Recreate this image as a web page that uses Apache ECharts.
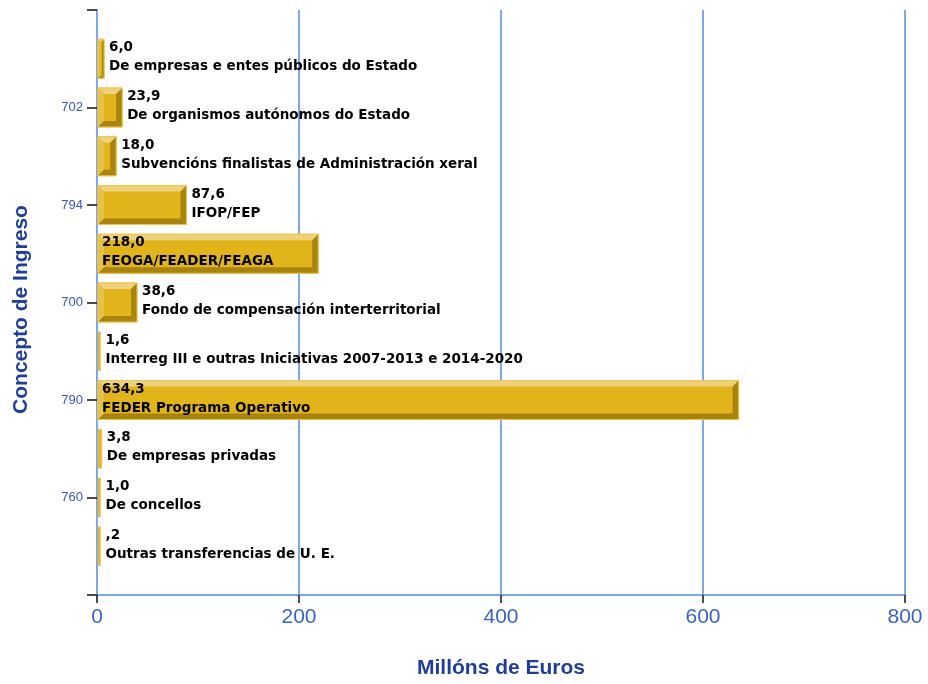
<!DOCTYPE html>
<html>
<head>
<meta charset="utf-8">
<script src="https://cdn.jsdelivr.net/npm/echarts@6/dist/echarts.min.js"></script>
<style>
html,body{margin:0;padding:0;background:#fff;}
#chart{width:928px;height:684px;}
</style>
</head>
<body>
<div id="chart"></div>
<script>
// Data (top to bottom)
const names = [
  'De empresas e entes públicos do Estado',
  'De organismos autónomos do Estado',
  'Subvencións finalistas de Administración xeral',
  'IFOP/FEP',
  'FEOGA/FEADER/FEAGA',
  'Fondo de compensación interterritorial',
  'Interreg III e outras Iniciativas 2007-2013 e 2014-2020',
  'FEDER Programa Operativo',
  'De empresas privadas',
  'De concellos',
  'Outras transferencias de U. E.'
];
const values = [6.0, 23.9, 18.0, 87.6, 218.0, 38.6, 1.6, 634.3, 3.8, 1.0, 0.2];
// y tick labels (category axis positions 0..12, padded slots at both ends)
const yTickLabels = ['', '', '702', '', '794', '', '700', '', '790', '', '760', '', ''];
const xTicks = [0, 200, 400, 600, 800];

const yCategories = [''].concat(names, ['']);

function fmt(v) {
  let s = v.toFixed(1).replace('.', ',');
  if (s.startsWith('0,')) s = s.slice(1);
  return s;
}

const chart = echarts.init(document.getElementById('chart'), null, {renderer: 'canvas'});
const data = values.map((v, i) => [v, i + 1, names[i]]);

const option = {
  animation: false,
  grid: {left: 97, right: 23, top: 10, bottom: 88, containLabel: false},
  xAxis: {
    type: 'value',
    min: xTicks[0], max: xTicks[xTicks.length - 1], interval: 200,
    name: 'Millóns de Euros',
    nameLocation: 'middle',
    nameGap: 63,
    nameTextStyle: {color: '#1f3e9c', fontSize: 21, fontWeight: 'bold', fontFamily: 'Liberation Sans, Arial, sans-serif'},
    axisLine: {show: true, lineStyle: {color: '#7ea7e3', width: 2}},
    axisTick: {show: true, length: 8, lineStyle: {color: '#111', width: 1.5}},
    axisLabel: {color: '#3c63c4', fontSize: 21, margin: 12, fontFamily: 'Liberation Sans, Arial, sans-serif'},
    splitLine: {show: true, lineStyle: {color: '#7ea7e3', width: 2}}
  },
  yAxis: {
    type: 'category',
    data: yCategories,
    inverse: true,
    boundaryGap: false,
    name: 'Concepto de Ingreso',
    nameLocation: 'middle',
    nameGap: 65,
    nameRotate: 90,
    nameTextStyle: {color: '#1f3e9c', fontSize: 21, fontWeight: 'bold', fontFamily: 'Liberation Sans, Arial, sans-serif', padding: [0, 14, 0, 0]},
    axisLine: {show: true, lineStyle: {color: '#7ea7e3', width: 2}},
    axisTick: {show: true, length: 10, interval: 1, lineStyle: {color: '#111', width: 1.5}},
    axisLabel: {
      interval: 1, color: '#3a55c0', fontSize: 13, margin: 14,
      fontFamily: 'Liberation Sans, Arial, sans-serif',
      formatter: (val, idx) => yTickLabels[idx]
    },
    splitLine: {show: false}
  },
  series: [{
    type: 'custom',
    coordinateSystem: 'cartesian2d',
    encode: {x: 0, y: 1},
    clip: false,
    data: data,
    renderItem: function (params, api) {
      const v = api.value(0);
      const ci = api.value(1);
      const start = api.coord([0, ci]);
      const end = api.coord([v, ci]);
      const h = api.size([0, 1])[1] * 0.8;
      const x0 = start[0] + 1;
      const y0 = start[1] - h / 2;
      let w = Math.max(end[0] - start[0], 2.5);
      const children = [];
      const light = '#edd17c', mid = '#e1b41b', dark = '#a8830f', rim = '#eec544';
      if (w > 6) {
        const b = Math.min(6, w / 3);
        const x1 = x0 + w, y1 = y0 + h;
        children.push({type: 'rect', shape: {x: x0, y: y0, width: w, height: h}, style: {fill: mid, stroke: rim, lineWidth: 1}});
        children.push({type: 'polygon', shape: {points: [[x0, y0], [x1, y0], [x1 - b, y0 + b], [x0 + b, y0 + b]]}, style: {fill: light}});
        children.push({type: 'polygon', shape: {points: [[x0, y0], [x0 + b, y0 + b], [x0 + b, y1 - b], [x0, y1]]}, style: {fill: '#e7c24a'}});
        children.push({type: 'polygon', shape: {points: [[x1, y0], [x1, y1], [x1 - b, y1 - b], [x1 - b, y0 + b]]}, style: {fill: dark}});
        children.push({type: 'polygon', shape: {points: [[x0, y1], [x1, y1], [x1 - b, y1 - b], [x0 + b, y1 - b]]}, style: {fill: dark}});
        children.push({type: 'rect', shape: {x: x0, y: y0, width: w, height: h}, style: {fill: 'none', stroke: rim, lineWidth: 1}});
      } else {
        children.push({type: 'rect', shape: {x: x0, y: y0, width: w, height: h}, style: {fill: '#e2b62a', stroke: '#ecc655', lineWidth: 0.5}});
      }
      const inside = v > 150;
      const tx = inside ? x0 + 4 : x0 + w + 5;
      const font = 'bold 13.5px "DejaVu Sans", Verdana, sans-serif';
      children.push({type: 'text', style: {x: tx, y: start[1] - 11, text: fmt(v), fill: '#000', font: font, verticalAlign: 'middle', align: 'left'}});
      children.push({type: 'text', style: {x: tx, y: start[1] + 8, text: names[ci - 1], fill: '#000', font: font, verticalAlign: 'middle', align: 'left'}});
      return {type: 'group', children: children};
    }
  }]
};
chart.setOption(option);
</script>
</body>
</html>
